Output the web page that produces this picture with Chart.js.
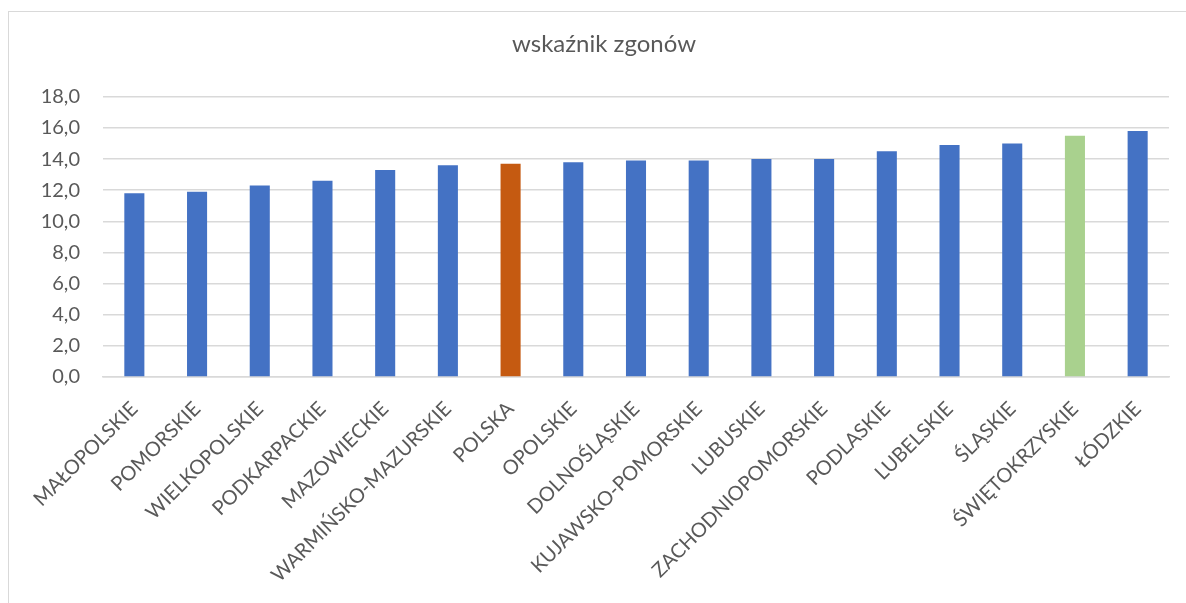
<!DOCTYPE html>
<html>
<head>
<meta charset="utf-8">
<script src="https://cdn.jsdelivr.net/npm/chart.js@4.4.1/dist/chart.umd.min.js"></script>
<style>
  html, body { margin: 0; padding: 0; background: #fff; overflow: hidden; }
  body { width: 1186px; height: 603px; position: relative; }
  #frame {
    position: absolute; left: 8px; top: 11px; width: 1200px; height: 620px;
    border-top: 1px solid #d9d9d9; border-left: 1px solid #d9d9d9;
  }
  #chart { position: absolute; left: 0; top: 0; }
</style>
</head>
<body>
<div id="frame"></div>
<canvas id="chart" width="1208" height="603"></canvas>
<script>
const categories = [
  'MAŁOPOLSKIE', 'POMORSKIE', 'WIELKOPOLSKIE', 'PODKARPACKIE', 'MAZOWIECKIE',
  'WARMIŃSKO-MAZURSKIE', 'POLSKA', 'OPOLSKIE', 'DOLNOŚLĄSKIE', 'KUJAWSKO-POMORSKIE',
  'LUBUSKIE', 'ZACHODNIOPOMORSKIE', 'PODLASKIE', 'LUBELSKIE', 'ŚLĄSKIE',
  'ŚWIĘTOKRZYSKIE', 'ŁÓDZKIE'
];
const deathRate = [
  11.8, 11.9, 12.3, 12.6, 13.3,
  13.6, 13.7, 13.8, 13.9, 13.9,
  14.0, 14.0, 14.5, 14.9, 15.0,
  15.5, 15.8
];
const yTicks = [0, 2, 4, 6, 8, 10, 12, 14, 16, 18];

// kolory słupków: Polska wyróżniona, świętokrzyskie też
const barColors = categories.map(c => {
  if (c === 'POLSKA') return '#c55a11';
  if (c === 'ŚWIĘTOKRZYSKIE') return '#a9d18e';
  return '#4472c4';
});

const textColor = '#595959';
const fontFamily = 'Lato, "Open Sans", sans-serif';

new Chart(document.getElementById('chart'), {
  type: 'bar',
  data: {
    labels: categories,
    datasets: [{
      data: deathRate,
      backgroundColor: barColors,
      borderWidth: 0,
      barPercentage: 0.32,
      categoryPercentage: 1
    }]
  },
  options: {
    responsive: false,
    animation: false,
    layout: { padding: { top: 0, left: 39, right: 39, bottom: 0 } },
    plugins: {
      legend: { display: false },
      tooltip: { enabled: false },
      title: {
        display: true,
        text: 'wskaźnik zgonów',
        color: textColor,
        font: { family: fontFamily, size: 24, weight: 'normal' },
        padding: { top: 30, bottom: 38 }
      }
    },
    scales: {
      x: {
        grid: { display: false, drawTicks: false },
        border: { display: true, color: '#d9d9d9', width: 1.5 },
        ticks: {
          color: textColor,
          font: { family: fontFamily, size: 20 },
          autoSkip: false,
          minRotation: 45,
          maxRotation: 45,
          padding: 20
        },
        afterFit: scale => { scale.height = 226; }
      },
      y: {
        min: 0,
        max: 18,
        afterBuildTicks: scale => { scale.ticks = yTicks.map(v => ({ value: v })); },
        grid: { color: '#d9d9d9', lineWidth: 1.5, drawTicks: false },
        border: { display: false },
        ticks: {
          color: textColor,
          font: { family: fontFamily, size: 20 },
          padding: 23,
          callback: v => v.toFixed(1).replace('.', ',')
        },
        afterFit: scale => { scale.width = 64; }
      }
    }
  }
});
</script>
</body>
</html>
